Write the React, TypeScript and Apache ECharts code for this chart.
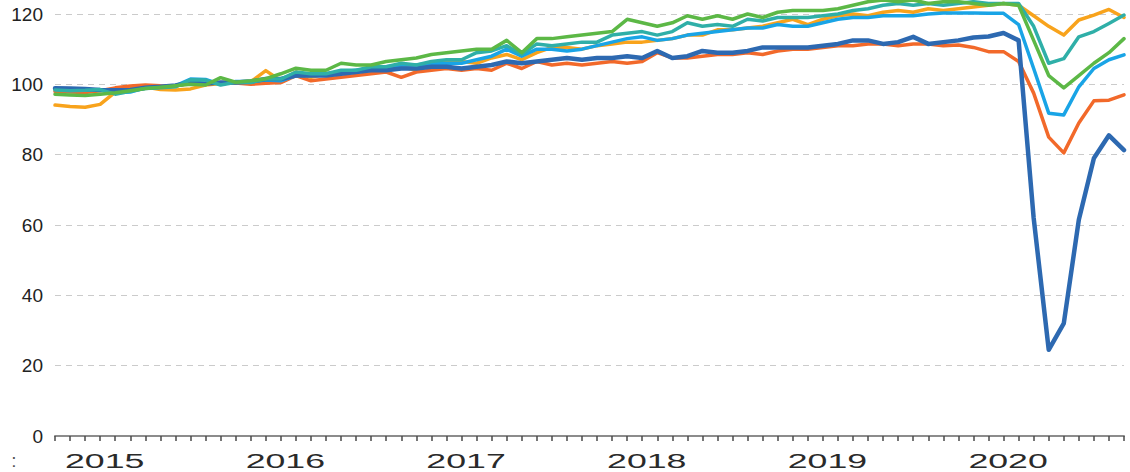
import React, { useEffect, useRef } from "react";
import * as echarts from "echarts";

// Monthly categories: Oct 2014 .. Sep 2020 (72 months)
const startYear = 2014;
const startMonth = 10;
const monthCount = 72;
const months: string[] = [];
for (let i = 0; i < monthCount; i++) {
  const m = startMonth - 1 + i;
  const y = startYear + Math.floor(m / 12);
  const mm = (m % 12) + 1;
  months.push(`${y}-${mm < 10 ? "0" + mm : mm}`);
}

const yearLabels = ["2015", "2016", "2017", "2018", "2019", "2020"];
const yearLabelIndex = [3, 15, 27, 39, 51, 63];

const darkBlue = [
  98.9, 98.8, 98.7, 98.4, 98.3, 98.4, 99.0, 99.3, 99.7, 100.5, 100.2, 100.5, 100.5, 100.8, 101.5, 101.5,
  102.5, 102.5, 102.5, 103.0, 103.5, 104.0, 104.0, 104.5, 104.5, 105.0, 105.0, 104.5,
  105.0, 105.5, 106.5, 106.0, 106.5, 107.0, 107.5, 107.0, 107.5, 107.5, 108.0,
  107.5, 109.5, 107.5, 108.0, 109.5, 109.0, 109.0, 109.5, 110.5, 110.5, 110.5, 110.5, 111.0,
  111.5, 112.5, 112.5, 111.5, 112.0, 113.5, 111.5, 112.0, 112.5, 113.3, 113.6, 114.6,
  112.5, 62.0, 24.5, 32.0, 61.5, 79.0, 85.5, 81.3,
];

const orangeRed = [
  98.0, 97.8, 97.7, 98.2, 99.0, 99.5, 99.8, 99.6, 99.5, 100.4, 100.0, 100.5, 100.4, 100.0, 100.3, 100.5,
  102.5, 101.0, 101.5, 102.0, 102.5, 103.0, 103.5, 102.0, 103.5, 104.0, 104.5, 104.0,
  104.5, 104.0, 106.0, 104.5, 106.5, 105.5, 106.0, 105.5, 106.0, 106.5, 106.0,
  106.5, 109.0, 107.5, 107.5, 108.0, 108.5, 108.5, 109.0, 108.5, 109.5, 110.0, 110.0, 110.5,
  111.0, 111.0, 111.5, 111.5, 111.0, 111.5, 111.5, 111.0, 111.2, 110.5, 109.3, 109.3,
  106.5, 97.5, 85.0, 80.5, 89.0, 95.3, 95.5, 97.0,
];

const gold = [
  94.1, 93.7, 93.5, 94.3, 97.8, 99.0, 99.2, 98.5, 98.4, 98.7, 99.8, 100.2, 100.5, 100.7, 103.9, 101.0,
  103.5, 102.0, 103.0, 103.5, 103.5, 104.5, 104.5, 105.0, 104.0, 105.5, 106.5, 106.5,
  106.0, 107.5, 108.5, 107.0, 109.0, 110.5, 110.5, 110.0, 111.0, 111.5, 112.0,
  112.0, 112.5, 113.0, 114.0, 114.0, 115.5, 115.5, 116.0, 116.5, 117.5, 118.5, 117.0, 118.5,
  119.5, 120.0, 119.5, 120.5, 121.0, 120.5, 121.5, 121.0, 121.5, 122.0, 122.5, 123.0,
  122.5, 119.5, 116.5, 114.0, 118.3, 119.7, 121.3, 119.0,
];

const teal = [
  98.4, 98.2, 98.3, 98.5, 97.2, 98.0, 98.8, 99.0, 99.3, 101.3, 101.2, 99.8, 100.6, 100.5, 101.5, 101.5,
  103.5, 103.0, 103.0, 104.0, 104.0, 105.0, 105.0, 106.0, 105.5, 106.5, 107.0, 107.0,
  109.0, 109.5, 111.0, 108.5, 111.5, 111.0, 111.5, 112.0, 112.0, 114.0, 114.5,
  115.0, 114.0, 115.0, 117.5, 116.5, 117.0, 116.5, 118.5, 118.0, 119.0, 119.0, 119.0, 119.5,
  120.0, 121.0, 121.5, 122.5, 123.0, 122.5, 123.0, 122.5, 123.0, 123.5, 123.0, 123.0,
  123.0, 116.5, 106.0, 107.3, 113.5, 115.0, 117.3, 119.7,
];

const lightBlue = [
  98.7, 98.5, 98.4, 98.4, 97.6, 97.8, 99.0, 99.2, 99.6, 101.5, 101.4, 100.0, 100.8, 100.8, 101.2, 101.0,
  102.5, 102.5, 103.0, 103.5, 104.0, 104.5, 105.0, 105.5, 105.5, 106.0, 106.0, 106.0,
  107.0, 108.0, 110.0, 108.0, 110.0, 110.0, 109.5, 110.0, 111.0, 112.0, 113.0,
  113.5, 112.5, 113.0, 114.0, 114.5, 115.0, 115.5, 116.0, 116.0, 117.0, 116.5, 116.5, 117.5,
  118.5, 119.0, 119.0, 119.5, 119.5, 119.5, 120.0, 120.3, 120.3, 120.3, 120.2, 120.2,
  117.0, 104.5, 91.8, 91.3, 99.3, 104.5, 107.0, 108.4,
];

const green = [
  97.2, 97.0, 96.8, 97.2, 97.6, 98.2, 98.8, 99.2, 99.6, 100.0, 99.8, 101.9, 100.6, 101.0, 101.6, 103.0,
  104.6, 104.0, 104.0, 106.0, 105.5, 105.5, 106.5, 107.0, 107.5, 108.5, 109.0, 109.5,
  110.0, 110.0, 112.5, 109.0, 113.0, 113.0, 113.5, 114.0, 114.5, 115.0, 118.5,
  117.5, 116.5, 117.5, 119.5, 118.5, 119.5, 118.5, 120.0, 119.0, 120.5, 121.0, 121.0, 121.0,
  121.5, 122.5, 123.5, 124.0, 123.5, 124.0, 123.0, 123.5, 123.5, 123.0, 122.5, 123.0,
  122.5, 112.5, 102.5, 99.0, 102.5, 106.0, 109.0, 113.0,
];

const seriesDefs = [
  { name: "gold", data: gold, color: "#f8a31c", width: 3.5 },
  { name: "orangeRed", data: orangeRed, color: "#f2692a", width: 3.5 },
  { name: "lightBlue", data: lightBlue, color: "#19a4e6", width: 3.5 },
  { name: "darkBlue", data: darkBlue, color: "#2d69b1", width: 4.5 },
  { name: "teal", data: teal, color: "#2fafa8", width: 3.5 },
  { name: "green", data: green, color: "#5cb846", width: 3.5 },
];

const FONT = "'Liberation Sans', Arial, sans-serif";

export default function App() {
  const ref = useRef<HTMLDivElement>(null);
  useEffect(() => {
    document.body.style.margin = "0";
    if (!ref.current) return;
    const chart = echarts.init(ref.current, null, { renderer: "svg" });
    chart.setOption({
      animation: false,
      backgroundColor: "#ffffff",
      grid: { left: 55, right: 6, top: 14, bottom: 36 },
      xAxis: {
        type: "category",
        data: months,
        boundaryGap: false,
        axisLine: { show: true, lineStyle: { color: "#8c8c8c", width: 2 } },
        axisTick: { show: true, interval: 0, length: 5, lineStyle: { color: "#4a4a4a", width: 1.5 } },
        axisLabel: { show: false },
        splitLine: { show: false },
      },
      yAxis: {
        type: "value",
        min: 0,
        max: 120,
        interval: 20,
        axisLine: { show: false },
        axisTick: { show: false },
        axisLabel: { fontSize: 19, fontFamily: FONT, color: "#222", margin: 12 },
        splitLine: { show: true, lineStyle: { type: [6, 5], color: "#cbcbcb", width: 1 } },
      },
      series: seriesDefs.map((s) => ({
        name: s.name,
        type: "line",
        data: s.data,
        symbol: "none",
        smooth: false,
        clip: false,
        lineStyle: { color: s.color, width: s.width, cap: "round", join: "round" },
        itemStyle: { color: s.color },
      })),
    });

    const p0 = chart.convertToPixel({ xAxisIndex: 0 }, 0) as number;
    const p1 = chart.convertToPixel({ xAxisIndex: 0 }, 1) as number;
    const step = p1 - p0;
    const graphics: any[] = yearLabels.map((t, k) => {
      const px = chart.convertToPixel({ xAxisIndex: 0 }, yearLabelIndex[k]) as number;
      return {
        type: "text",
        x: px + 0.3 * step,
        y: 460,
        scaleX: 1.7,
        silent: true,
        style: {
          text: t,
          x: 0,
          y: 0,
          align: "center",
          verticalAlign: "middle",
          textAlign: "center",
          textVerticalAlign: "middle",
          fontSize: 21,
          fontFamily: FONT,
          fill: "#2a2a2a",
        },
      };
    });
    graphics.push({
      type: "text",
      x: 14,
      y: 460,
      silent: true,
      style: {
        text: ":",
        x: 0,
        y: 0,
        align: "center",
        verticalAlign: "middle",
        textAlign: "center",
        textVerticalAlign: "middle",
        fontSize: 19,
        fontFamily: FONT,
        fill: "#555",
      },
    });
    chart.setOption({ graphic: graphics });

    return () => chart.dispose();
  }, []);
  return <div ref={ref} style={{ width: 1130, height: 472 }} />;
}
